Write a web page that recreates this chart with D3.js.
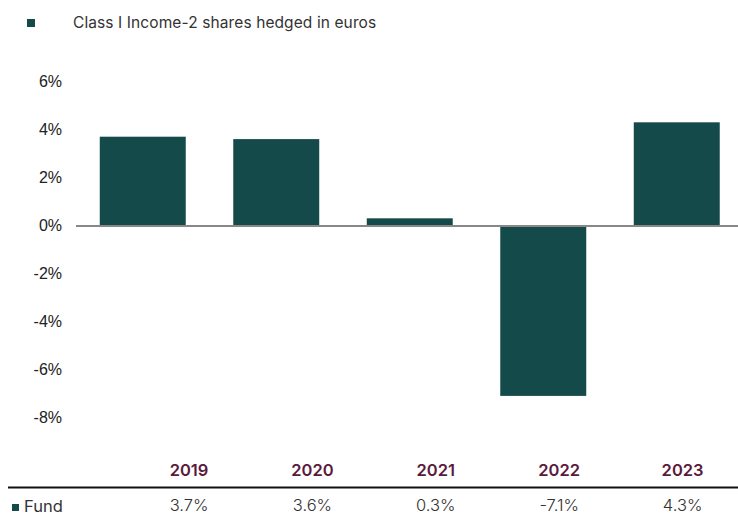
<!DOCTYPE html>
<html>
<head>
<meta charset="utf-8">
<script src="https://cdn.jsdelivr.net/npm/d3@7"></script>
<style>
  html, body { margin: 0; padding: 0; background: #fff; }
  svg { display: block; }
</style>
</head>
<body>
<svg id="chart" width="738" height="517"></svg>
<script>
// Calendar-year returns, Class I Income-2 shares hedged in euros
const years = ["2019", "2020", "2021", "2022", "2023"];
const fundReturns = [3.7, 3.6, 0.3, -7.1, 4.3];
const yTicks = [6, 4, 2, 0, -2, -4, -6, -8];
const seriesName = "Class I Income-2 shares hedged in euros";
const rowLabel = "Fund";

const barColor = "#144a4a";
const yearColor = "#5a1a3c";

const svg = d3.select("#chart");

// Chart columns
const x = d3.scaleBand()
  .domain(years)
  .range([76, 743.5])
  .paddingInner(0.356)
  .paddingOuter(0.178);

// Table columns beneath the chart
const xTable = d3.scaleBand()
  .domain(years)
  .range([127.3, 744.3]);

const y = d3.scaleLinear()
  .domain([-8, 6])
  .range([417.5, 81.5]);

// Legend at top
svg.append("rect")
  .attr("x", 27).attr("y", 19).attr("width", 8).attr("height", 8)
  .attr("fill", barColor);
svg.append("text")
  .attr("x", 73).attr("y", 27.5)
  .attr("font-family", "Inter, 'Liberation Sans', sans-serif")
  .attr("font-size", 15.5)
  .attr("letter-spacing", 0.1)
  .attr("fill", "#333")
  .text(seriesName);

// Y axis labels
const yAxis = d3.axisLeft(y)
  .tickValues(yTicks)
  .tickSize(0)
  .tickPadding(0)
  .tickFormat(d => d + "%");
const yg = svg.append("g")
  .attr("transform", "translate(62,0)")
  .call(yAxis);
yg.select(".domain").remove();
yg.selectAll("text")
  .attr("font-family", "'Liberation Sans', Arial, sans-serif")
  .attr("font-size", 16)
  .attr("fill", "#222");

// Bars
svg.append("g").selectAll("rect")
  .data(years.map((yr, i) => ({ yr, v: fundReturns[i] })))
  .join("rect")
  .attr("x", d => x(d.yr))
  .attr("width", x.bandwidth())
  .attr("y", d => y(Math.max(0, d.v)))
  .attr("height", d => Math.abs(y(d.v) - y(0)))
  .attr("fill", barColor);

// Zero baseline
svg.append("line")
  .attr("x1", 76).attr("x2", 738)
  .attr("y1", y(0) + 0.5).attr("y2", y(0) + 0.5)
  .attr("stroke", "#888")
  .attr("stroke-width", 2);

// Year header row
svg.append("g").selectAll("text")
  .data(years)
  .join("text")
  .attr("x", d => xTable(d) + xTable.bandwidth() / 2)
  .attr("y", 475.5)
  .attr("text-anchor", "middle")
  .attr("font-family", "Inter, 'Liberation Sans', sans-serif")
  .attr("font-size", 16.5)
  .attr("font-weight", 600)
  .attr("fill", yearColor)
  .text(d => d);

// Table rule
svg.append("line")
  .attr("x1", 8).attr("x2", 738)
  .attr("y1", 487.5).attr("y2", 487.5)
  .attr("stroke", "#111")
  .attr("stroke-width", 2.2);

// Fund row
svg.append("rect")
  .attr("x", 12).attr("y", 504).attr("width", 7).attr("height", 7)
  .attr("fill", barColor);
svg.append("text")
  .attr("x", 24).attr("y", 511.5)
  .attr("font-family", "Inter, 'Liberation Sans', sans-serif")
  .attr("font-size", 16.5)
  .attr("fill", "#333")
  .text(rowLabel);

svg.append("g").selectAll("text")
  .data(years.map((yr, i) => ({ yr, v: fundReturns[i] })))
  .join("text")
  .attr("x", d => xTable(d.yr) + xTable.bandwidth() / 2)
  .attr("y", 511)
  .attr("text-anchor", "middle")
  .attr("font-family", "Inter, 'Liberation Sans', sans-serif")
  .attr("font-size", 16.5)
  .attr("font-weight", 300)
  .attr("fill", "#333")
  .text(d => d.v.toFixed(1) + "%");
</script>
</body>
</html>
